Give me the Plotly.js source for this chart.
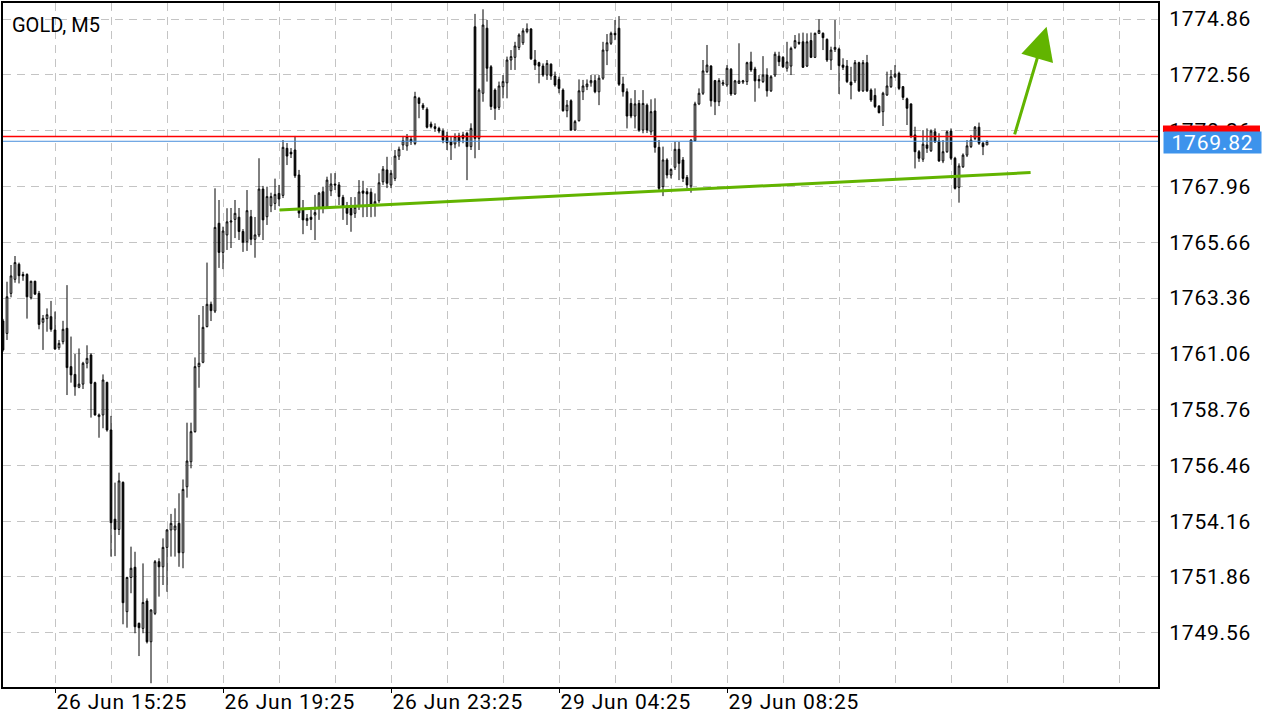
<!DOCTYPE html>
<html>
<head>
<meta charset="utf-8">
<script src="https://cdn.plot.ly/plotly-3.0.1.min.js"></script>
<style>
html,body{margin:0;padding:0;background:#fff;}
#chart{width:1280px;height:720px;}
.ytick text{letter-spacing:0.8px;}
.xtick text{letter-spacing:0.8px;}
g.annotation[data-index="2"] text{letter-spacing:0.8px;}
</style>
</head>
<body>
<div id="chart"></div>
<script>
// GOLD, M5 candles (bar index 0 = first visible bar)
const openP = [1762.41,1761.90,1763.55,1764.13,1764.75,1764.33,1764.33,1763.37,1764.05,1763.55,1762.36,1762.51,1762.59,
1762.04,1761.31,1761.56,1762.11,1760.53,1760.21,1759.68,1759.81,1760.67,1761.01,1759.87,1758.47,1758.54,1759.88,1757.92,1754.24,1753.82,1755.76,1750.43,1751.84,1752.26,1749.95,1749.74,1750.87,1749.19,1750.36,1752.49,1752.28,1753.08,1753.80,1753.80,1754.07,1752.86,1755.58,1756.61,1757.85,1760.53,1760.71,1762.18,1763.10,
1762.82,1766.44,1765.24,1765.96,1766.49,1766.60,1766.69,1766.10,1765.68,1766.71,1765.78,1765.96,1767.85,1766.71,1767.16,1767.26,1767.67,1767.59,1769.53,1769.37,1769.46,1768.43,1766.99,1766.55,1766.69,1766.78,1767.10,1767.74,1767.12,1767.78,1768.06,1768.02,1767.51,1767.15,1767.06,1766.85,1767.15,1767.77,1767.74,1767.72,1767.19,1767.37,1768.15,1768.64,1768.02,1768.29,1769.21,1769.67,1769.63,1769.90,
1769.73,1771.59,1771.31,1771.14,1770.53,1770.42,1770.35,1770.24,1770.04,1769.80,1769.71,1770.04,1770.08,1770.15,1769.60,1774.54,1769.94,1771.80,1774.48,1772.89,1771.93,1771.22,1772.07,1772.23,1773.17,1773.28,1773.69,1773.88,1774.34,1774.45,1773.17,1773.06,1772.92,1772.55,1773.00,1772.51,1772.37,1771.93,1771.08,1771.49,1770.28,1770.67,1771.86,1772.07,1772.23,1772.32,1771.86,1772.42,1773.55,1773.86,1774.27,1774.48,1772.18,1771.86,1771.38,1770.86,1771.38,1770.28,1771.31,1770.21,1771.07,1769.57,1767.95,1769.05,1768.43,1768.75,1769.49,1769.05,1768.33,1767.98,
1769.84,1771.36,1771.80,1772.69,1772.92,1772.32,1771.45,1772.18,1772.14,1772.79,1771.77,1772.21,1772.26,1772.28,1773.09,1772.80,1772.37,1772.28,1772.55,1771.90,1772.55,1773.33,1773.28,1772.83,1772.92,1773.69,1773.90,1773.92,1772.92,1773.97,1773.28,1774.27,1774.27,1774.02,1773.17,1773.61,1773.62,1772.96,1772.92,1772.26,1772.31,1773.06,1771.90,1773.06,1771.93,1771.71,1771.27,1771.04,1771.73,1772.07,1772.48,1772.62,1772.07,1771.57,1771.36,1770.08,1769.39,1769.08,1769.67,1769.43,1770.21,1769.83,1769.01,1769.39,1770.24,1769.12,1767.92,1768.77,1769.25,1769.60,1769.94,1770.40,1769.74,1769.67];
const highP = [1762.50,1764.03,1764.72,1765.09,1764.82,1764.44,1764.38,1764.07,1764.07,1763.65,1762.66,1762.93,1763.24,
1762.80,1761.63,1762.42,1763.89,1761.77,1761.05,1761.28,1760.73,1761.41,1761.08,1759.91,1758.60,1760.21,1759.91,1758.50,1755.75,1756.16,1755.80,1751.87,1753.11,1752.90,1749.98,1752.42,1750.98,1750.53,1752.56,1752.63,1753.45,1753.83,1754.46,1754.69,1755.31,1755.88,1758.22,1758.22,1760.91,1762.66,1763.03,1764.82,1763.21,
1767.88,1767.40,1766.30,1767.06,1767.07,1767.40,1767.07,1766.20,1767.81,1766.99,1766.70,1769.12,1767.98,1767.95,1767.70,1768.28,1768.02,1769.87,1769.75,1769.54,1770.04,1768.64,1767.40,1766.82,1766.99,1767.61,1767.73,1767.95,1768.36,1768.50,1768.51,1768.14,1767.61,1767.32,1767.52,1767.52,1768.22,1768.19,1767.89,1767.88,1767.67,1768.50,1768.80,1769.18,1768.64,1769.46,1769.60,1770.04,1770.12,1770.01,
1771.86,1771.65,1771.40,1771.22,1770.63,1770.56,1770.42,1770.35,1770.21,1770.01,1770.15,1770.17,1770.21,1770.21,1770.56,1775.07,1772.00,1775.26,1774.82,1772.96,1772.00,1772.28,1772.55,1773.31,1773.58,1773.92,1774.27,1774.48,1774.68,1774.48,1773.58,1773.10,1773.03,1773.17,1773.03,1772.69,1772.48,1772.00,1771.52,1771.55,1770.70,1772.37,1772.35,1772.37,1772.55,1772.55,1772.55,1773.92,1774.24,1774.34,1774.82,1774.98,1772.48,1772.00,1771.59,1771.93,1771.52,1771.93,1771.38,1771.55,1771.59,1769.87,1769.60,1769.12,1768.70,1769.80,1769.79,1769.17,1768.43,1769.91,
1771.45,1772.00,1773.17,1773.79,1772.96,1772.35,1772.42,1772.35,1772.96,1772.84,1772.35,1773.86,1772.35,1773.10,1773.51,1772.89,1772.55,1773.33,1772.83,1772.55,1773.51,1773.51,1773.33,1773.92,1773.72,1774.20,1774.27,1774.30,1774.27,1774.30,1774.30,1774.85,1774.31,1774.06,1773.72,1774.82,1773.68,1773.24,1773.17,1772.89,1773.17,1773.10,1773.17,1773.38,1772.00,1772.00,1771.31,1771.86,1772.69,1772.76,1772.96,1772.69,1772.10,1771.62,1771.38,1770.42,1769.46,1770.28,1770.35,1770.31,1770.35,1770.15,1769.87,1770.26,1770.35,1769.18,1768.91,1769.32,1769.87,1770.08,1770.45,1770.59,1769.80,1769.85];
const lowP = [1761.15,1761.63,1763.39,1763.99,1763.96,1764.07,1762.51,1763.30,1763.48,1762.07,1761.22,1761.97,1761.97,
1761.22,1761.22,1761.45,1759.36,1759.87,1759.33,1759.64,1759.61,1760.46,1758.43,1758.51,1757.60,1757.99,1757.85,1752.70,1752.72,1753.59,1749.91,1749.77,1751.19,1749.54,1748.60,1749.54,1749.12,1747.48,1750.29,1751.05,1751.53,1751.25,1752.70,1752.70,1752.28,1752.22,1755.13,1756.34,1757.81,1759.66,1760.67,1762.15,1762.41,
1762.74,1764.60,1764.55,1765.34,1765.42,1765.83,1765.75,1765.26,1765.30,1765.54,1765.02,1765.87,1765.75,1766.37,1766.90,1766.99,1767.15,1767.48,1768.84,1769.13,1768.31,1766.66,1765.99,1766.33,1766.16,1765.75,1766.58,1766.85,1767.03,1767.56,1767.81,1767.19,1766.58,1766.37,1766.09,1766.66,1766.99,1766.69,1766.70,1766.69,1766.71,1767.28,1768.02,1767.89,1767.89,1768.18,1769.05,1769.46,1769.43,1769.67,
1769.66,1770.77,1771.11,1770.35,1770.35,1770.21,1770.15,1769.74,1769.46,1769.05,1769.53,1769.60,1769.74,1768.22,1769.46,1769.12,1769.46,1771.45,1772.28,1771.11,1770.70,1771.11,1771.59,1771.59,1772.76,1772.76,1773.58,1773.79,1774.27,1773.17,1772.76,1772.21,1772.48,1772.35,1772.35,1772.07,1771.80,1771.04,1770.81,1770.26,1770.26,1770.63,1771.52,1771.93,1772.07,1771.80,1771.31,1772.35,1772.96,1773.79,1773.99,1772.10,1771.66,1770.35,1770.77,1770.35,1770.21,1770.15,1770.16,1770.08,1769.35,1767.81,1767.56,1768.29,1768.29,1768.64,1768.22,1768.14,1767.88,1767.70,
1769.83,1771.31,1771.73,1772.63,1771.25,1770.90,1771.27,1772.10,1772.06,1771.69,1771.73,1772.18,1772.18,1772.14,1772.68,1771.45,1772.00,1772.22,1771.66,1771.85,1772.47,1772.92,1772.84,1772.69,1772.55,1773.62,1773.79,1772.84,1772.88,1773.25,1773.25,1774.24,1773.58,1773.09,1772.76,1773.50,1771.77,1772.76,1772.22,1771.55,1772.22,1771.85,1771.85,1771.85,1771.44,1771.19,1770.97,1770.45,1771.69,1772.02,1772.43,1771.93,1771.52,1770.49,1769.95,1768.70,1768.97,1768.97,1769.34,1769.38,1769.75,1768.97,1768.92,1769.34,1769.05,1767.83,1767.29,1768.72,1769.17,1769.54,1769.87,1769.67,1769.25,1769.67];
const closeP = [1761.22,1763.41,1764.27,1764.82,1764.28,1764.27,1763.41,1764.05,1763.52,1762.27,1762.52,1762.67,1762.07,
1761.26,1761.49,1762.07,1760.49,1760.19,1759.70,1759.81,1760.67,1760.87,1759.84,1758.54,1758.54,1759.98,1757.92,1754.10,1753.82,1755.82,1750.80,1751.84,1752.22,1749.81,1749.77,1750.81,1749.19,1750.50,1752.49,1752.28,1753.08,1753.80,1754.07,1753.96,1752.86,1755.47,1756.64,1757.85,1760.53,1760.67,1762.15,1763.10,1762.84,
1766.27,1765.24,1766.12,1766.50,1766.53,1766.85,1766.10,1765.66,1766.96,1765.78,1765.96,1767.85,1766.58,1767.54,1767.54,1767.63,1767.44,1769.57,1769.21,1769.30,1768.40,1766.86,1766.58,1766.64,1766.60,1766.88,1767.68,1767.12,1768.22,1768.06,1768.02,1767.54,1767.15,1766.85,1766.78,1767.10,1767.73,1767.68,1767.65,1767.19,1767.33,1768.11,1768.67,1768.09,1768.50,1769.21,1769.49,1769.84,1770.01,1769.80,
1771.66,1771.38,1771.20,1770.40,1770.42,1770.35,1770.24,1769.87,1769.76,1769.67,1770.01,1769.80,1769.94,1769.60,1770.35,1769.94,1771.93,1774.61,1772.83,1771.25,1771.18,1772.10,1772.28,1773.17,1773.31,1773.75,1774.20,1774.37,1774.45,1773.22,1772.96,1772.92,1772.55,1773.03,1772.51,1772.14,1772.00,1771.08,1771.31,1770.28,1770.63,1771.90,1772.10,1772.18,1772.32,1771.86,1772.42,1773.58,1773.88,1774.27,1774.21,1772.17,1771.86,1770.86,1770.86,1771.36,1770.28,1771.38,1770.28,1771.04,1769.57,1767.88,1769.05,1768.43,1768.66,1769.49,1768.91,1768.29,1768.02,1769.87,
1771.36,1771.80,1772.72,1772.96,1771.49,1771.45,1772.32,1772.23,1772.83,1771.77,1772.31,1772.31,1772.31,1773.06,1772.76,1772.31,1772.31,1772.55,1771.90,1772.48,1773.41,1773.10,1772.89,1773.09,1773.65,1773.97,1773.86,1772.87,1773.92,1773.28,1774.27,1774.39,1774.09,1773.17,1773.58,1773.69,1772.94,1772.87,1772.28,1772.14,1773.06,1771.90,1773.06,1771.90,1771.52,1771.25,1771.00,1771.80,1772.10,1772.48,1772.59,1772.00,1771.63,1771.18,1770.04,1769.39,1769.12,1769.70,1769.53,1770.24,1769.80,1769.01,1769.39,1770.21,1769.12,1767.88,1768.80,1769.25,1769.63,1769.87,1770.40,1769.74,1769.60,1769.82];

// time axis labels (bar index where each label sits)
const labelBars = [13, 55, 97, 139, 181];
const labelText = ["26 Jun 15:25", "26 Jun 19:25", "26 Jun 23:25", "29 Jun 04:25", "29 Jun 08:25"];

// price levels and drawn objects
const askPrice = 1770.02;
const bidPrice = 1769.82;
const trendBars = [69.1, 256.9];
const trendPrices = [1766.99, 1768.53];
const arrowFromBar = 252.8, arrowFromPrice = 1770.04;
const arrowToBar = 260.9, arrowToPrice = 1774.54;

const barIndex = openP.map((_, k) => k);

const FONT = 'Roboto, "Noto Sans", sans-serif';
const GRID = '#c4c4c4';
const DASH = '8px,6px';
const GREEN = '#62b400';

const trace = {
  type: 'candlestick',
  x: barIndex,
  open: openP, high: highP, low: lowP, close: closeP,
  increasing: {line: {color: '#000', width: 1}, fillcolor: '#ffffff'},
  decreasing: {line: {color: '#000', width: 1}, fillcolor: '#000000'},
  whiskerwidth: 0,
  hoverinfo: 'skip',
  showlegend: false
};

const layout = {
  width: 1280, height: 720,
  margin: {l: 3, r: 122, t: 3, b: 33, pad: 0},
  paper_bgcolor: '#ffffff', plot_bgcolor: '#ffffff',
  font: {family: FONT, color: '#000', size: 18},
  boxgap: 0.4,
  showlegend: false,
  xaxis: {
    type: 'linear',
    range: [0, 288.75],
    tickmode: 'array', tickvals: labelBars, ticktext: labelText,
    ticks: 'outside', ticklen: 4, tickcolor: '#000', tickwidth: 1,
    ticklabelposition: 'outside right',
    ticklabelstandoff: -5,
    tickfont: {family: FONT, size: 21, color: '#000'},
    showgrid: true, gridcolor: GRID, griddash: DASH, gridwidth: 1,
    minor: {tickmode: 'linear', tick0: 13, dtick: 14, ticks: '',
            showgrid: true, gridcolor: GRID, griddash: DASH, gridwidth: 1},
    showline: true, linecolor: '#000', linewidth: 2, mirror: true,
    zeroline: false,
    rangeslider: {visible: false},
    fixedrange: true
  },
  yaxis: {
    side: 'right',
    range: [1747.325, 1775.52],
    tickmode: 'linear', tick0: 1749.56, dtick: 2.3, tickformat: '.2f',
    ticks: 'outside', ticklen: 5, tickcolor: 'rgba(0,0,0,0)', tickwidth: 1,
    tickfont: {family: FONT, size: 21, color: '#000'},
    showgrid: true, gridcolor: GRID, griddash: DASH, gridwidth: 1,
    showline: true, linecolor: '#000', linewidth: 2, mirror: true,
    zeroline: false,
    fixedrange: true
  },
  shapes: [
    {type: 'line', xref: 'paper', yref: 'y', x0: 0, x1: 1, y0: askPrice, y1: askPrice,
     line: {color: '#ff0000', width: 1.5}, layer: 'above'},
    {type: 'line', xref: 'paper', yref: 'y', x0: 0, x1: 1, y0: bidPrice, y1: bidPrice,
     line: {color: '#4a8fdc', width: 1}, layer: 'above'},
    {type: 'line', xref: 'x', yref: 'y', x0: trendBars[0], x1: trendBars[1], y0: trendPrices[0], y1: trendPrices[1],
     line: {color: GREEN, width: 3}, layer: 'above'},
    {type: 'rect', xref: 'paper', yref: 'y', x0: 1.0043, x1: 1.0883, y0: 1770.20, y1: 1770.47,
     fillcolor: '#ff0000', line: {width: 0}, layer: 'above'}
  ],
  annotations: [
    {text: 'GOLD, M5', xref: 'paper', yref: 'paper', x: 0.006, y: 0.968, xanchor: 'left', yanchor: 'middle',
     showarrow: false, font: {family: FONT, size: 20, color: '#000'}},
    {text: '', x: arrowToBar, y: arrowToPrice, ax: arrowFromBar, ay: arrowFromPrice, xref: 'x', yref: 'y', axref: 'x', ayref: 'y',
     showarrow: true, arrowhead: 2, arrowsize: 2.2, arrowwidth: 3, arrowcolor: GREEN},
    {text: bidPrice.toFixed(2), xref: 'paper', yref: 'y', x: 1.0043, y: 1769.79, xanchor: 'left', yanchor: 'middle',
     showarrow: false, bgcolor: '#3d93ec', width: 97, height: 21, borderpad: 0, align: 'center',
     font: {family: FONT, size: 21, color: '#ffffff'}}
  ]
};

Plotly.newPlot('chart', [trace], layout, {staticPlot: true, displayModeBar: false});
</script>
</body>
</html>
